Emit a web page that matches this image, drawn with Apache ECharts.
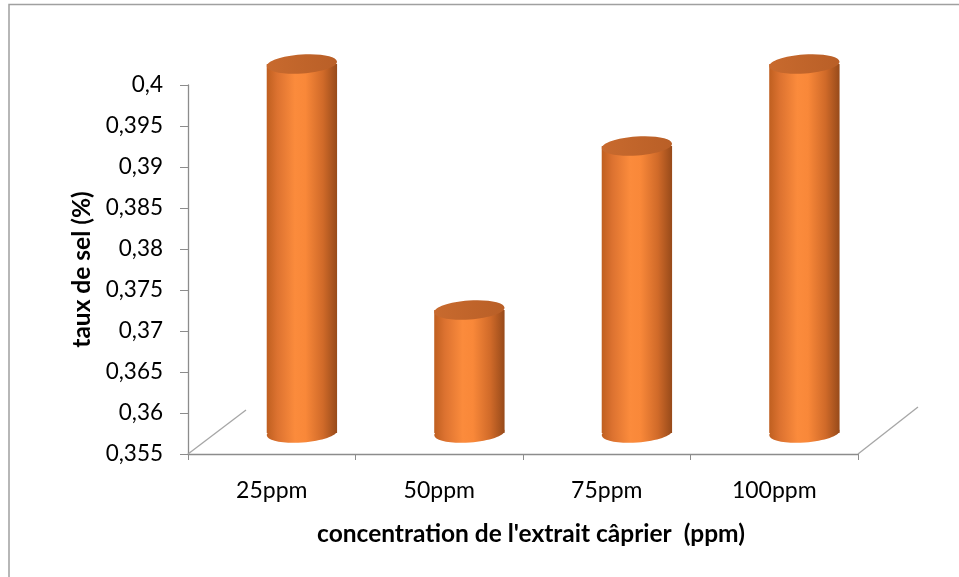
<!DOCTYPE html>
<html>
<head>
<meta charset="utf-8">
<script src="https://cdn.jsdelivr.net/npm/echarts@6/dist/echarts.min.js"></script>
<style>
html,body{margin:0;padding:0;background:#fff;}
#chart{width:959px;height:577px;}
</style>
</head>
<body>
<div id="chart"></div>
<script>
const categories = ['25ppm', '50ppm', '75ppm', '100ppm'];
const values = [0.4, 0.37, 0.39, 0.4];
const yMin = 0.355;
const yMax = 0.4;
const yStep = 0.005;
const xTitle = "concentration de l'extrait câprier  (ppm)";
const yTitle = 'taux de sel (%)';

const FONT = 'Lato';
const chart = echarts.init(document.getElementById('chart'), null, {renderer: 'canvas'});

const bodyGrad = () => new echarts.graphic.LinearGradient(0, 0, 1, 0, [
  {offset: 0, color: '#bf5f20'},
  {offset: 0.15, color: '#dc7230'},
  {offset: 0.4, color: '#fb8b3c'},
  {offset: 0.55, color: '#f98839'},
  {offset: 0.8, color: '#d06a29'},
  {offset: 1, color: '#974a1a'}
]);

function renderCylinder(params, api) {
  const idx = api.value(0);
  const v = api.value(1);
  const top = api.coord([idx, v]);
  const bot = api.coord([idx, yMin]);
  const catW = api.size([1, 0])[0];
  const bw = catW * 0.42;
  const dx = catW * 0.18, dy = -21;
  const cx = top[0] + dx;
  const ty = top[1] + dy, by = bot[1] + dy;
  const rx = bw / 2, ry = 9.5;
  const rot = 0.07;
  return {
    type: 'group',
    children: [
      {type: 'ellipse', shape: {cx: cx, cy: by, rx: rx, ry: ry}, rotation: rot, originX: cx, originY: by,
        style: {fill: bodyGrad()}},
      {type: 'rect', shape: {x: cx - rx, y: ty, width: bw, height: by - ty},
        style: {fill: bodyGrad()}},
      {type: 'ellipse', shape: {cx: cx, cy: ty, rx: rx, ry: ry}, rotation: rot, originX: cx, originY: ty,
        style: {fill: new echarts.graphic.LinearGradient(0, 0, 1, 0, [
          {offset: 0, color: '#c86a2e'}, {offset: 1, color: '#b95f27'}])}}
    ]
  };
}

function renderFloor(params, api) {
  const cs = params.coordSys;
  const x0 = cs.x, x1 = cs.x + cs.width, yb = cs.y + cs.height;
  const st = {stroke: '#a6a6a6', lineWidth: 1.3};
  return {
    type: 'group',
    children: [
      {type: 'line', shape: {x1: x0, y1: yb, x2: x0 + 58, y2: yb - 44}, style: st},
      {type: 'line', shape: {x1: x1, y1: yb, x2: x1 + 60, y2: yb - 47}, style: st}
    ]
  };
}

chart.setOption({
  animation: false,
  backgroundColor: '#fff',
  graphic: [{
    type: 'polyline',
    shape: {points: [[9, 577], [9, 4.5], [959, 4.5]]},
    style: {stroke: '#a0a0a0', lineWidth: 1.5, fill: null}
  }],
  grid: {left: 188, top: 85, width: 670, height: 369, containLabel: false},
  xAxis: {
    type: 'category',
    data: categories,
    boundaryGap: true,
    axisLine: {show: true, lineStyle: {color: '#8c8c8c', width: 1.3}},
    axisTick: {show: true, length: 6, alignWithLabel: false, lineStyle: {color: '#8c8c8c'}},
    axisLabel: {color: '#000', fontFamily: FONT, fontSize: 23, margin: 25},
    name: xTitle,
    nameLocation: 'middle',
    nameGap: 68,
    nameTextStyle: {color: '#000', fontFamily: FONT, fontSize: 24.5, fontWeight: 'bold', padding: [0, 0, 0, 16]}
  },
  yAxis: {
    type: 'value',
    min: yMin,
    max: yMax,
    interval: yStep,
    splitLine: {show: false},
    axisLine: {show: true, lineStyle: {color: '#8c8c8c', width: 1.3}},
    axisTick: {show: true, length: 8, lineStyle: {color: '#8c8c8c'}},
    axisLabel: {
      color: '#000', fontFamily: FONT, fontSize: 22.5, margin: 25,
      showMinLabel: true, showMaxLabel: true,
      formatter: v => String(+v.toFixed(3)).replace('.', ',')
    },
    name: yTitle,
    nameLocation: 'middle',
    nameGap: 89,
    nameTextStyle: {color: '#000', fontFamily: FONT, fontSize: 24.5, fontWeight: 'bold'}
  },
  series: [
    {
      type: 'custom',
      renderItem: renderFloor,
      data: [[0, yMin]],
      encode: {x: 0, y: 1},
      silent: true,
      z: 1
    },
    {
      type: 'custom',
      renderItem: renderCylinder,
      data: values.map((v, i) => [i, v]),
      encode: {x: 0, y: 1},
      z: 2
    }
  ]
});
</script>
</body>
</html>
